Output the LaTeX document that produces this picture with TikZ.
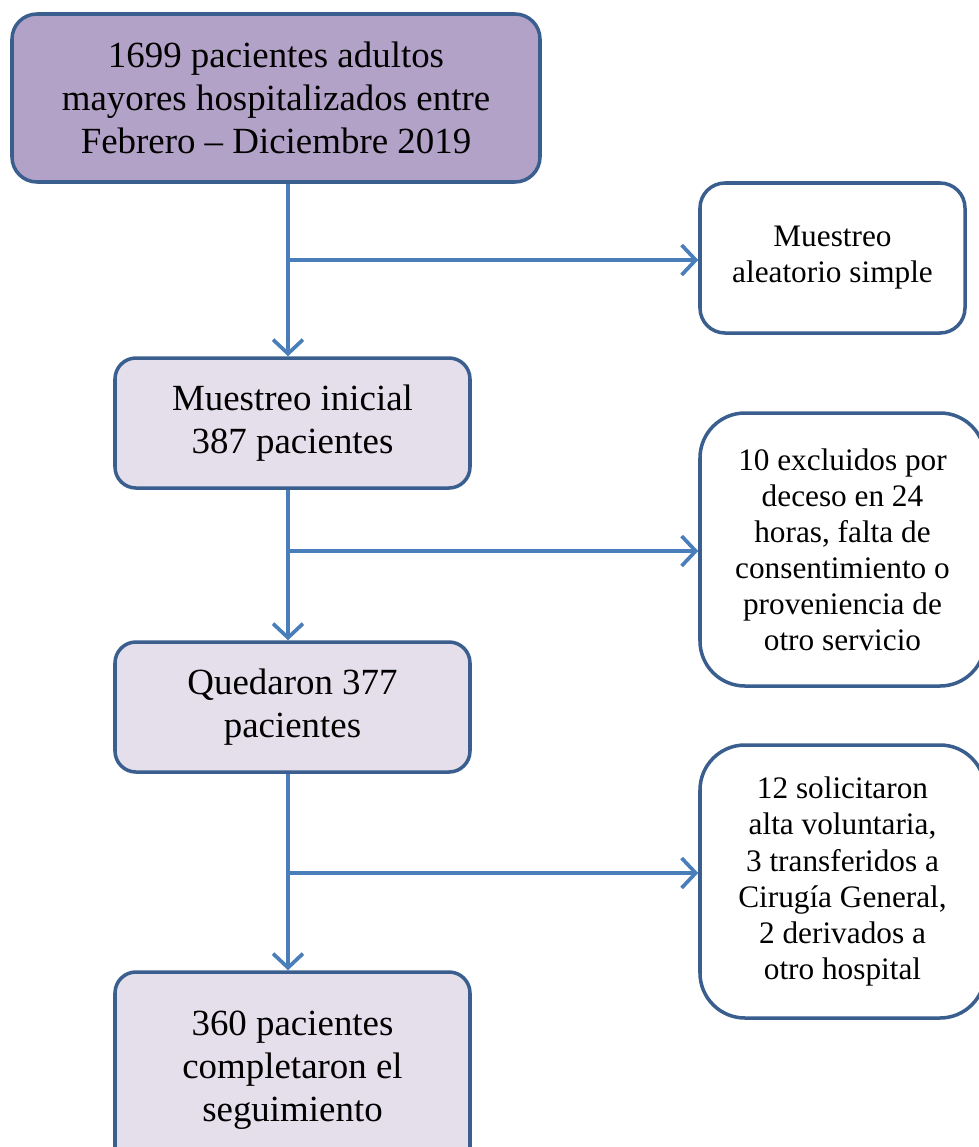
\documentclass[tikz,border=0pt]{standalone}
\usepackage{fontspec}
\setmainfont{Liberation Serif}
\usepackage{xcolor}
\usepackage{tikz}
\usetikzlibrary{positioning,calc,arrows.meta}

\definecolor{boxline}{HTML}{3A5F8E}
\definecolor{arrowblue}{HTML}{4A7EBB}
\definecolor{topfill}{HTML}{B3A2C7}
\definecolor{stepfill}{HTML}{E5DFEC}

\begin{document}
\begin{tikzpicture}[
    mainbox/.style={draw=boxline, line width=2pt, rounded corners=0.42cm,
        align=center, inner sep=0pt,
        font=\fontsize{21}{24.5}\selectfont},
    sidebox/.style={draw=boxline, line width=2pt, fill=white,
        align=center, inner sep=0pt,
        font=\fontsize{17.8}{20.5}\selectfont},
    flow/.style={draw=arrowblue, line width=2.1pt,
        -{Straight Barb[length=8pt,width=17pt,line width=2.1pt]}}
]
    \useasboundingbox (0,0) rectangle (19.58,-22.94);

    \node[mainbox, fill=topfill, rounded corners=0.5cm,
          minimum width=10.56cm, minimum height=3.36cm] (total) at (5.52,-1.96)
        {1699 pacientes adultos\\mayores hospitalizados entre\\Febrero -- Diciembre 2019};
    \node[mainbox, fill=stepfill, minimum width=7.1cm, minimum height=2.6cm]
        (inicial) at (5.85,-8.46) {Muestreo inicial\\387 pacientes};
    \node[mainbox, fill=stepfill, minimum width=7.1cm, minimum height=2.6cm]
        (quedaron) at (5.85,-14.14) {Quedaron 377\\pacientes};
    \node[mainbox, fill=stepfill, minimum width=7.1cm, minimum height=3.92cm]
        (final) at (5.85,-21.40) {360 pacientes\\completaron el\\seguimiento};

    \node[sidebox, rounded corners=0.5cm, minimum width=5.3cm, minimum height=3cm]
        (muestreo) at (16.65,-5.16) {Muestreo\\aleatorio simple};
    \node[sidebox, rounded corners=0.9cm, minimum width=5.7cm, minimum height=5.46cm]
        (excluidos) at (16.85,-10.99)
        {10 excluidos por\\deceso en 24\\horas, falta de\\consentimiento o\\proveniencia de\\otro servicio};
    \node[sidebox, rounded corners=0.9cm, minimum width=5.7cm, minimum height=5.46cm]
        (perdidos) at (16.85,-17.63)
        {12 solicitaron\\alta voluntaria,\\3 transferidos a\\Cirugía General,\\2 derivados a\\otro hospital};

    % main line and side branches
    \coordinate (spine) at (5.76,0);
    \coordinate (b1) at (5.76,-5.2);
    \coordinate (b2) at (5.76,-11.02);
    \coordinate (b3) at (5.76,-17.46);

    \draw[flow] (total.south -| spine) -- (inicial.north -| spine);
    \draw[flow] (inicial.south -| spine) -- (quedaron.north -| spine);
    \draw[flow] (quedaron.south -| spine) -- (final.north -| spine);

    \draw[flow] (b1) -- (b1 -| muestreo.west);
    \draw[flow] (b2) -- (b2 -| excluidos.west);
    \draw[flow] (b3) -- (b3 -| perdidos.west);
\end{tikzpicture}
\end{document}
